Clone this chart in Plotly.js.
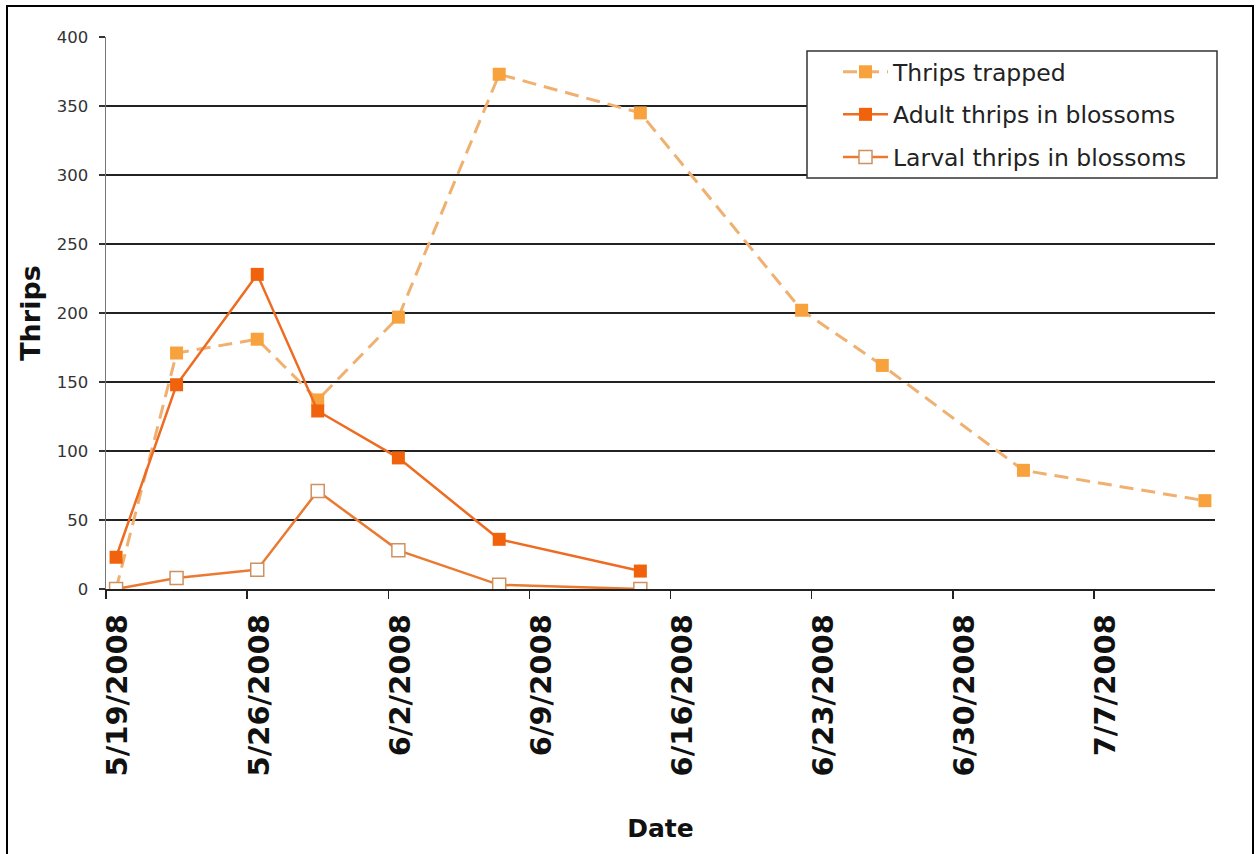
<!DOCTYPE html>
<html>
<head>
<meta charset="utf-8">
<script src="https://cdn.plot.ly/plotly-3.0.1.min.js"></script>
<style>
  html, body { margin: 0; padding: 0; background: #fff; }
  #chart { position: absolute; left: 0; top: 0; width: 1258px; height: 854px; }
  #frame {
    position: absolute; left: 6px; top: 5px; width: 1244px; height: 870px;
    border: 2px solid #000; pointer-events: none;
  }
</style>
</head>
<body>
<div id="chart"></div>
<div id="frame"></div>
<script>
// Sampling dates (each point sits in the middle of its day)
const trappedDates = ['2008-05-19', '2008-05-22', '2008-05-26', '2008-05-29', '2008-06-02',
                      '2008-06-07', '2008-06-14', '2008-06-22', '2008-06-26', '2008-07-03', '2008-07-12'];
const blossomDates = ['2008-05-19', '2008-05-22', '2008-05-26', '2008-05-29', '2008-06-02',
                      '2008-06-07', '2008-06-14'];

// Counts
const thripsTrapped = [0, 171, 181, 137, 197, 373, 345, 202, 162, 86, 64];
const adultThrips   = [23, 148, 228, 129, 95, 36, 13];
const larvalThrips  = [0, 8, 14, 71, 28, 3, 0];

const seriesNames = ['Thrips trapped', 'Adult thrips in blossoms', 'Larval thrips in blossoms'];

const DAY = 86400000;
const FONT = 'DejaVu Sans, Verdana, sans-serif';

const traces = [
  {
    x: trappedDates, y: thripsTrapped, name: seriesNames[0], legendgroup: 'a',
    type: 'scatter', mode: 'lines+markers',
    xperiod: DAY, xperiodalignment: 'middle',
    line: { color: '#EFB070', width: 3, dash: '14px,8px' },
    marker: { symbol: 'square', size: 13, color: '#F8A23E' }
  },
  {
    x: blossomDates, y: adultThrips, name: seriesNames[1], legendgroup: 'b',
    type: 'scatter', mode: 'lines+markers',
    xperiod: DAY, xperiodalignment: 'middle',
    line: { color: '#EE6B22', width: 2.5 },
    marker: { symbol: 'square', size: 13, color: '#F0620C' }
  },
  {
    x: blossomDates, y: larvalThrips, name: seriesNames[2], legendgroup: 'c',
    type: 'scatter', mode: 'lines+markers',
    xperiod: DAY, xperiodalignment: 'middle',
    line: { color: '#EA7A32', width: 2.5 },
    marker: { symbol: 'square', size: 13, color: '#FFFFFF', line: { color: '#CF9160', width: 1.5 } }
  }
];

// Plot area in pixels: x 106..1215, y 37..589
const L = 106, R = 1215, T = 37, B = 589;
const px = v => (v - L) / (R - L);
const py = v => (B - v) / (B - T);

const layout = {
  width: 1258, height: 854,
  margin: { l: L, r: 1258 - R, t: T, b: 854 - B, pad: 0 },
  paper_bgcolor: '#fff', plot_bgcolor: '#fff',
  font: { family: FONT, color: '#222' },
  showlegend: true,
  legend: {
    x: px(838), y: py(50), xanchor: 'left', yanchor: 'top',
    bgcolor: 'rgba(0,0,0,0)', borderwidth: 0,
    traceorder: 'grouped', tracegroupgap: 9,
    itemwidth: 45,
    font: { family: FONT, size: 23.5, color: '#222' }
  },
  xaxis: {
    type: 'date',
    range: ['2008-05-19', '2008-07-13'],
    tick0: '2008-05-19', dtick: 7 * DAY,
    tickformat: '%-m/%-d/%Y',
    tickangle: -90,
    tickfont: { family: FONT, size: 29, weight: 'bold', color: '#111' },
    ticks: 'outside', ticklen: 8, tickwidth: 1.5, tickcolor: '#222',
    ticklabelshift: 12, ticklabelstandoff: 4,
    showgrid: false, zeroline: false,
    showline: true, linecolor: '#222', linewidth: 1.5,
    title: { text: 'Date', font: { family: FONT, size: 25, weight: 'bold', color: '#111' }, standoff: 44 },
    fixedrange: true
  },
  yaxis: {
    range: [0, 400], dtick: 50,
    tickfont: { family: FONT, size: 16.5, color: '#333' },
    ticks: 'outside', ticklen: 6, tickwidth: 1.5, tickcolor: '#333',
    ticklabelstandoff: 7,
    showgrid: true, gridcolor: '#222', gridwidth: 1.3,
    zeroline: false,
    showline: true, linecolor: '#777', linewidth: 1.5,
    title: { text: 'Thrips', font: { family: FONT, size: 27, weight: 'bold', color: '#111' }, standoff: 8 },
    fixedrange: true
  },
  shapes: [
    {
      type: 'rect', xref: 'paper', yref: 'paper', layer: 'above',
      x0: px(807), x1: px(1217), y0: py(178), y1: py(51),
      fillcolor: '#fff', line: { color: '#333', width: 1.5 }
    }
  ]
};

Plotly.newPlot('chart', traces, layout, { displayModeBar: false, staticPlot: true });
</script>
</body>
</html>
